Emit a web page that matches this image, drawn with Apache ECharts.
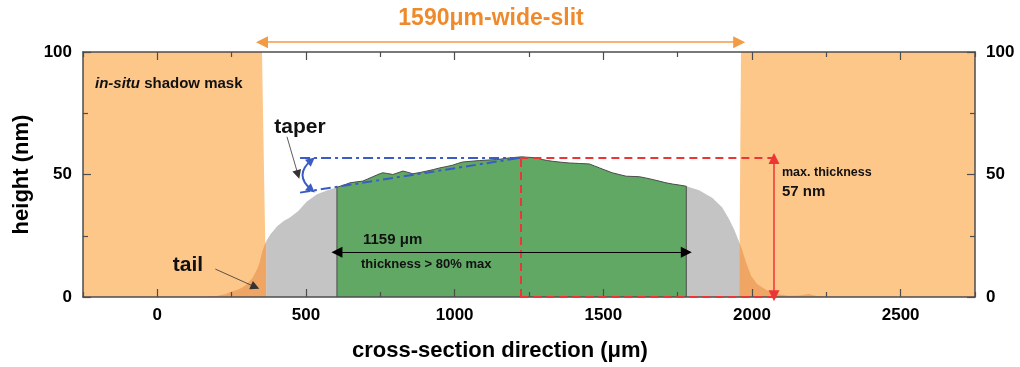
<!DOCTYPE html>
<html><head><meta charset="utf-8">
<script src="https://cdn.jsdelivr.net/npm/echarts@6/dist/echarts.min.js"></script>
<style>html,body{margin:0;padding:0;background:#fff}#c{width:1020px;height:367px}</style>
</head><body><div id="c"></div>
<script>
// ---- data (µm, nm) ----
const xMajorTicks = [0, 500, 1000, 1500, 2000, 2500];
const xMinorTicks = [-250, 250, 750, 1250, 1750, 2250, 2750];
const maskLeft = [[-250, 100], [352, 100], [366, 0]];
const maskRight = [[1957, 0], [1963, 100], [2750, 100]];
const leftTail = [[150, 0], [200, 0.4], [230, 1.2], [245, 2], [270, 3], [290, 4.2], [302, 5.3], [320, 7.8], [336, 11.4], [345, 14.5], [352, 18.3], [360, 21], [366, 22.8]];
const rightTail = [[1957, 22.5], [1966, 19.5], [1980, 14.2], [1997, 8.7], [2017, 5.3], [2047, 3], [2081, 1.2], [2124, 0.5], [2160, 0.6], [2191, 1.2], [2210, 0.6], [2225, 0.3], [2272, 0]];
const grayLeft = [[366, 22.8], [380, 25.5], [403, 28.9], [425, 31], [446, 32.5], [473, 35], [503, 39], [537, 41.9], [570, 43.5], [604, 44.8]];
const greenProfile = [[604, 44.8], [625, 45.6], [648, 46.6], [670, 47.0], [691, 47.3], [708, 48.2], [725, 49.1], [742, 50.0], [758, 50.7], [775, 50.4], [792, 50.0], [809, 50.7], [826, 51.4], [842, 50.9], [859, 50.3], [883, 50.8], [906, 51.4], [928, 52.0], [950, 52.7], [971, 53.2], [993, 53.8], [1010, 54.5], [1027, 55.1], [1055, 55.4], [1084, 55.7], [1112, 55.9], [1141, 56.1], [1163, 56.4], [1185, 56.8], [1205, 57.0], [1225, 57.2], [1250, 57.0], [1275, 56.8], [1295, 56.1], [1312, 55.7], [1329, 55.4], [1358, 55.0], [1386, 54.7], [1420, 54.5], [1453, 54.3], [1470, 53.5], [1487, 52.7], [1508, 51.7], [1530, 50.7], [1553, 50.0], [1577, 49.3], [1600, 49.2], [1621, 49.1], [1642, 48.6], [1664, 48.0], [1688, 47.3], [1711, 46.6], [1733, 46.1], [1755, 45.7], [1779, 45.2]];
const grayRight = [[1779, 45.2], [1822, 43.6], [1866, 40.5], [1900, 36.5], [1923, 31.7], [1940, 27.6], [1953, 23.6], [1957, 22.5]];
const greenStart = 604, greenEnd = 1779, arrowLevel = 18.3;
const maxPos = 1221, maxThick = 57, maxArrowX = 2074;
const taperStart = 480, taperLow = 42.6, taperArcX = 518;
const slitLeft = 352, slitRight = 1957, slitArrowY = 104;

const FONT = 'Liberation Sans, Arial, sans-serif';
const chart = echarts.init(document.getElementById('c'), null, {renderer: 'canvas'});
const axisColor = '#4d4d4d';
const baseX = {type: 'value', min: -250, max: 2750, gridIndex: 0, splitLine: {show: false}, z: 10};
const grayProfile = grayLeft.concat(greenProfile.slice(1), grayRight.slice(1));
const greenData = [[greenStart, 0]].concat(greenProfile, [[greenEnd, 0]]);

function areaSeries(data, color, z, line) {
  return {type: 'line', data, symbol: 'none', z, silent: true, animation: false,
    lineStyle: line || {width: 0}, areaStyle: {color, opacity: 1}};
}
function linesSeries(coordsList, style, symbol, size, z) {
  return {type: 'lines', coordinateSystem: 'cartesian2d', xAxisIndex: 0, yAxisIndex: 0, clip: false,
    data: coordsList.map(c => ({coords: c})), lineStyle: style, symbol: symbol, symbolSize: size,
    z: z || 12, silent: true, animation: false, effect: {show: false}};
}
const axisLineStyle = {color: axisColor, width: 1.5};
const tickStyle = {color: axisColor, width: 1.2};
const labelStyle = {fontFamily: FONT, fontWeight: 'bold', fontSize: 17, color: '#000'};

const option = {
  animation: false,
  backgroundColor: '#fff',
  grid: {left: 83, right: 45, top: 52, bottom: 69, containLabel: false},
  xAxis: [
    Object.assign({}, baseX, {position: 'bottom',
      name: 'cross-section direction (μm)', nameLocation: 'middle', nameGap: 43,
      nameTextStyle: {fontFamily: FONT, fontWeight: 'bold', fontSize: 22, color: '#000', padding: [0, 58, 0, 0]},
      axisLine: {show: true, onZero: false, lineStyle: axisLineStyle},
      axisTick: {show: true, inside: true, length: 8, customValues: xMajorTicks, lineStyle: tickStyle},
      axisLabel: Object.assign({show: true, customValues: xMajorTicks, margin: 10, formatter: v => String(v)}, labelStyle)}),
    Object.assign({}, baseX, {position: 'bottom',
      axisLine: {show: false, onZero: false},
      axisTick: {show: true, inside: true, length: 5, customValues: xMinorTicks, lineStyle: tickStyle},
      axisLabel: {show: false}}),
    Object.assign({}, baseX, {position: 'top',
      axisLine: {show: true, onZero: false, lineStyle: axisLineStyle},
      axisTick: {show: true, inside: true, length: 8, customValues: xMajorTicks, lineStyle: tickStyle},
      axisLabel: {show: false}}),
    Object.assign({}, baseX, {position: 'top',
      axisLine: {show: false, onZero: false},
      axisTick: {show: true, inside: true, length: 5, customValues: xMinorTicks, lineStyle: tickStyle},
      axisLabel: {show: false}})
  ],
  yAxis: [
    {type: 'value', min: 0, max: 100, interval: 50, position: 'left', z: 10,
      name: 'height (nm)', nameLocation: 'middle', nameGap: 50,
      nameTextStyle: {fontFamily: FONT, fontWeight: 'bold', fontSize: 22, color: '#000'},
      splitLine: {show: false},
      axisLine: {show: true, onZero: false, lineStyle: axisLineStyle},
      axisTick: {show: true, inside: true, length: 8, lineStyle: tickStyle},
      minorTick: {show: true, splitNumber: 2, length: 5, lineStyle: tickStyle},
      axisLabel: Object.assign({margin: 11}, labelStyle)},
    {type: 'value', min: 0, max: 100, interval: 50, position: 'right', z: 10,
      splitLine: {show: false},
      axisLine: {show: true, onZero: false, lineStyle: axisLineStyle},
      axisTick: {show: true, inside: true, length: 8, lineStyle: tickStyle},
      minorTick: {show: true, splitNumber: 2, length: 5, lineStyle: tickStyle},
      axisLabel: Object.assign({margin: 11}, labelStyle)}
  ],
  series: [
    areaSeries(grayProfile, '#C4C4C4', 2),
    areaSeries(greenData, '#61A865', 3, {color: '#4d4d4d', width: 1}),
    areaSeries(maskLeft, '#FDC78A', 4),
    areaSeries(maskRight, '#FDC78A', 4),
    areaSeries(leftTail, '#EFA665', 5),
    areaSeries(rightTail, '#EFA665', 5),
    // red dashed guide lines
    linesSeries([[[maxPos, 0], [maxPos, maxThick]], [[maxPos, maxThick], [maxArrowX, maxThick]], [[maxPos, 0.3], [maxArrowX, 0.3]]],
      {color: '#EE3535', width: 2, type: [8, 5], opacity: 1}, 'none', 0),
    // red vertical arrow
    linesSeries([[[maxArrowX, 0.5], [maxArrowX, maxThick - 0.5]]], {color: '#EE3535', width: 1.5, opacity: 1}, ['triangle', 'triangle'], 11),
    // blue dash-dot taper lines
    linesSeries([[[taperStart, maxThick - 0.2], [maxPos, maxThick - 0.2]], [[taperStart, taperLow], [maxPos, maxThick - 0.2]]],
      {color: '#3B5CC4', width: 2, type: [10, 4, 3, 4], opacity: 1}, 'none', 0),
    // blue curved double arrow
    linesSeries([[[taperArcX, maxThick - 1.2], [taperArcX, taperLow + 1.2]]],
      {color: '#3B5CC4', width: 2, curveness: -0.6, opacity: 1}, ['triangle', 'triangle'], 9),
    // black double arrow (width)
    linesSeries([[[greenStart, arrowLevel], [greenEnd, arrowLevel]]], {color: '#000', width: 1.2, opacity: 1}, ['triangle', 'triangle'], 11),
    // pointer arrows
    linesSeries([[[436, 65.4], [473, 50]], [[195, 11.4], [329, 4.1]]], {color: '#333', width: 0.8, opacity: 1}, ['none', 'triangle'], 9),
    // orange slit arrow
    linesSeries([[[slitLeft, slitArrowY], [slitRight, slitArrowY]]], {color: '#F39A45', width: 1.5, opacity: 1}, ['triangle', 'triangle'], 12)
  ],
  graphic: [
    {type: 'text', x: 491, y: 19, z: 100, style: {text: '1590μm-wide-slit', font: 'bold 23px ' + FONT, fill: '#EF8A2C', align: 'center', verticalAlign: 'middle'}},
    {type: 'text', x: 95, y: 84, z: 100, style: {text: '{i|in-situ} shadow mask', font: 'bold 15px ' + FONT, fill: '#111', align: 'left', verticalAlign: 'middle',
      rich: {i: {fontStyle: 'italic', fontWeight: 'bold', fontSize: 15, fontFamily: FONT, fill: '#111'}}}},
    {type: 'text', x: 300, y: 127, z: 100, style: {text: 'taper', font: 'bold 21px ' + FONT, fill: '#111', align: 'center', verticalAlign: 'middle'}},
    {type: 'text', x: 188, y: 265, z: 100, style: {text: 'tail', font: 'bold 21px ' + FONT, fill: '#111', align: 'center', verticalAlign: 'middle'}},
    {type: 'text', x: 363, y: 240, z: 100, style: {text: '1159 μm', font: 'bold 15px ' + FONT, fill: '#111', align: 'left', verticalAlign: 'middle'}},
    {type: 'text', x: 361, y: 264, z: 100, style: {text: 'thickness > 80% max', font: 'bold 13px ' + FONT, fill: '#111', align: 'left', verticalAlign: 'middle'}},
    {type: 'text', x: 782, y: 173, z: 100, style: {text: 'max. thickness', font: 'bold 12.5px ' + FONT, fill: '#111', align: 'left', verticalAlign: 'middle'}},
    {type: 'text', x: 782, y: 192, z: 100, style: {text: '57 nm', font: 'bold 15px ' + FONT, fill: '#111', align: 'left', verticalAlign: 'middle'}}
  ]
};
chart.setOption(option);
</script></body></html>
